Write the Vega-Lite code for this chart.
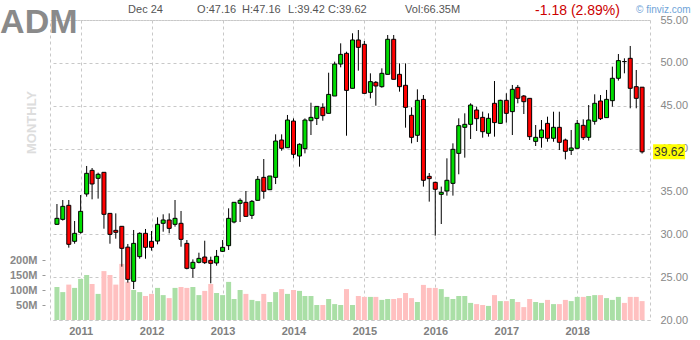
{
  "$schema": "https://vega.github.io/schema/vega-lite/v6.json",
  "width": 600,
  "height": 300,
  "autosize": {"type": "none"},
  "padding": {"left": 50, "top": 20, "right": 50, "bottom": 20},
  "background": "white",
  "config": {
    "font": "Liberation Sans",
    "view": {"stroke": "#c8c8c8", "strokeDash": [3, 3]}
  },
  "data": {"values": [
    {"d":"2010-09-01","o":31.16,"h":33.53,"l":31.1,"c":31.86,"v":110},
    {"d":"2010-10-01","o":31.74,"h":34.0,"l":31.6,"c":33.26,"v":93},
    {"d":"2010-11-01","o":33.38,"h":34.0,"l":28.44,"c":28.83,"v":118},
    {"d":"2010-12-01","o":29.18,"h":31.55,"l":28.9,"c":30.11,"v":107},
    {"d":"2011-01-01","o":30.23,"h":34.58,"l":30.07,"c":32.68,"v":137},
    {"d":"2011-02-01","o":34.7,"h":37.97,"l":34.39,"c":37.11,"v":150},
    {"d":"2011-03-01","o":37.46,"h":37.73,"l":34.08,"c":35.87,"v":120},
    {"d":"2011-04-01","o":36.53,"h":37.19,"l":34.16,"c":37.0,"v":87},
    {"d":"2011-05-01","o":37.23,"h":37.23,"l":30.65,"c":32.33,"v":163},
    {"d":"2011-06-01","o":32.44,"h":32.44,"l":28.9,"c":29.99,"v":150},
    {"d":"2011-07-01","o":30.46,"h":32.44,"l":29.49,"c":30.23,"v":118},
    {"d":"2011-08-01","o":30.93,"h":30.93,"l":26.22,"c":28.36,"v":187},
    {"d":"2011-09-01","o":28.5,"h":28.87,"l":24.36,"c":24.74,"v":127},
    {"d":"2011-10-01","o":24.51,"h":30.5,"l":23.61,"c":28.94,"v":100},
    {"d":"2011-11-01","o":27.39,"h":30.23,"l":27.15,"c":30.11,"v":93},
    {"d":"2011-12-01","o":30.11,"h":30.62,"l":27.15,"c":28.48,"v":80},
    {"d":"2012-01-01","o":29.18,"h":30.38,"l":28.09,"c":28.48,"v":87},
    {"d":"2012-02-01","o":29.21,"h":31.98,"l":28.83,"c":31.16,"v":107},
    {"d":"2012-03-01","o":31.28,"h":32.33,"l":30.3,"c":31.67,"v":83},
    {"d":"2012-04-01","o":31.67,"h":32.44,"l":30.11,"c":30.69,"v":73},
    {"d":"2012-05-01","o":31.16,"h":34.0,"l":30.89,"c":31.86,"v":107},
    {"d":"2012-06-01","o":31.28,"h":32.72,"l":28.55,"c":29.41,"v":110},
    {"d":"2012-07-01","o":28.94,"h":29.33,"l":25.91,"c":26.03,"v":107},
    {"d":"2012-08-01","o":26.03,"h":27.07,"l":24.94,"c":26.73,"v":110},
    {"d":"2012-09-01","o":26.73,"h":27.85,"l":26.61,"c":27.19,"v":83},
    {"d":"2012-10-01","o":27.35,"h":29.25,"l":26.53,"c":26.69,"v":97},
    {"d":"2012-11-01","o":26.96,"h":27.39,"l":24.28,"c":26.61,"v":120},
    {"d":"2012-12-01","o":26.65,"h":28.17,"l":26.34,"c":27.43,"v":90},
    {"d":"2013-01-01","o":28.01,"h":29.33,"l":27.93,"c":28.48,"v":83},
    {"d":"2013-02-01","o":28.67,"h":33.03,"l":28.17,"c":31.86,"v":127},
    {"d":"2013-03-01","o":31.43,"h":33.73,"l":31.28,"c":33.73,"v":70},
    {"d":"2013-04-01","o":33.61,"h":34.19,"l":31.43,"c":33.96,"v":100},
    {"d":"2013-05-01","o":33.73,"h":35.05,"l":32.09,"c":32.09,"v":87},
    {"d":"2013-06-01","o":32.21,"h":34.0,"l":31.78,"c":33.84,"v":67},
    {"d":"2013-07-01","o":33.96,"h":36.8,"l":33.96,"c":36.41,"v":63},
    {"d":"2013-08-01","o":36.64,"h":38.78,"l":34.15,"c":35.01,"v":87},
    {"d":"2013-09-01","o":35.2,"h":36.8,"l":35.2,"c":36.8,"v":60},
    {"d":"2013-10-01","o":36.64,"h":41.66,"l":35.86,"c":40.88,"v":93},
    {"d":"2013-11-01","o":41.0,"h":41.66,"l":39.75,"c":40.03,"v":103},
    {"d":"2013-12-01","o":40.1,"h":43.92,"l":40.1,"c":43.33,"v":87},
    {"d":"2014-01-01","o":43.21,"h":43.52,"l":38.86,"c":39.33,"v":100},
    {"d":"2014-02-01","o":39.13,"h":40.61,"l":37.89,"c":40.5,"v":97},
    {"d":"2014-03-01","o":39.99,"h":43.52,"l":39.44,"c":43.33,"v":80},
    {"d":"2014-04-01","o":43.25,"h":45.35,"l":41.58,"c":43.64,"v":80},
    {"d":"2014-05-01","o":43.52,"h":44.92,"l":42.75,"c":44.92,"v":50},
    {"d":"2014-06-01","o":44.81,"h":45.28,"l":43.25,"c":43.84,"v":50},
    {"d":"2014-07-01","o":44.11,"h":48.85,"l":44.11,"c":46.32,"v":70},
    {"d":"2014-08-01","o":46.13,"h":50.14,"l":46.13,"c":49.86,"v":53},
    {"d":"2014-09-01","o":49.86,"h":52.28,"l":49.48,"c":50.99,"v":50},
    {"d":"2014-10-01","o":51.11,"h":51.3,"l":41.5,"c":46.79,"v":103},
    {"d":"2014-11-01","o":47.03,"h":53.45,"l":47.03,"c":52.67,"v":50},
    {"d":"2014-12-01","o":52.67,"h":53.83,"l":49.09,"c":51.81,"v":80},
    {"d":"2015-01-01","o":52.16,"h":52.55,"l":46.44,"c":46.44,"v":77},
    {"d":"2015-02-01","o":46.56,"h":48.78,"l":45.86,"c":47.81,"v":77},
    {"d":"2015-03-01","o":47.73,"h":47.88,"l":45.0,"c":47.3,"v":77},
    {"d":"2015-04-01","o":47.22,"h":49.36,"l":47.1,"c":48.78,"v":67},
    {"d":"2015-05-01","o":48.66,"h":53.25,"l":48.66,"c":52.75,"v":70},
    {"d":"2015-06-01","o":52.75,"h":53.25,"l":48.08,"c":48.08,"v":70},
    {"d":"2015-07-01","o":48.66,"h":49.94,"l":46.64,"c":47.22,"v":73},
    {"d":"2015-08-01","o":47.38,"h":49.94,"l":42.44,"c":44.81,"v":90},
    {"d":"2015-09-01","o":43.88,"h":44.81,"l":40.61,"c":41.31,"v":73},
    {"d":"2015-10-01","o":41.55,"h":46.91,"l":40.77,"c":45.63,"v":60},
    {"d":"2015-11-01","o":45.74,"h":46.25,"l":35.56,"c":36.3,"v":117},
    {"d":"2015-12-01","o":36.76,"h":37.15,"l":33.81,"c":36.49,"v":107},
    {"d":"2016-01-01","o":36.06,"h":36.14,"l":29.84,"c":35.25,"v":107},
    {"d":"2016-02-01","o":34.66,"h":35.56,"l":31.2,"c":34.9,"v":103},
    {"d":"2016-03-01","o":35.05,"h":38.86,"l":34.51,"c":36.3,"v":77},
    {"d":"2016-04-01","o":35.94,"h":40.61,"l":34.51,"c":39.91,"v":70},
    {"d":"2016-05-01","o":39.44,"h":43.53,"l":37.0,"c":42.67,"v":80},
    {"d":"2016-06-01","o":42.48,"h":44.11,"l":38.94,"c":42.83,"v":80},
    {"d":"2016-07-01","o":42.83,"h":45.28,"l":41.12,"c":45.08,"v":57},
    {"d":"2016-08-01","o":44.5,"h":44.89,"l":42.05,"c":43.49,"v":53},
    {"d":"2016-09-01","o":43.64,"h":44.31,"l":41.27,"c":41.97,"v":50},
    {"d":"2016-10-01","o":41.78,"h":44.11,"l":41.39,"c":43.53,"v":47},
    {"d":"2016-11-01","o":45.28,"h":47.88,"l":41.39,"c":43.03,"v":83},
    {"d":"2016-12-01","o":42.94,"h":45.7,"l":42.9,"c":45.63,"v":63},
    {"d":"2017-01-01","o":45.63,"h":46.45,"l":43.03,"c":44.11,"v":63},
    {"d":"2017-02-01","o":44.31,"h":47.42,"l":41.58,"c":46.91,"v":70},
    {"d":"2017-03-01","o":47.14,"h":47.42,"l":45.28,"c":45.86,"v":60},
    {"d":"2017-04-01","o":46.13,"h":46.25,"l":44.03,"c":45.47,"v":43},
    {"d":"2017-05-01","o":45.86,"h":45.86,"l":41.0,"c":41.39,"v":70},
    {"d":"2017-06-01","o":40.84,"h":42.75,"l":40.3,"c":41.31,"v":60},
    {"d":"2017-07-01","o":41.27,"h":43.33,"l":40.1,"c":42.17,"v":57},
    {"d":"2017-08-01","o":42.94,"h":43.72,"l":40.8,"c":41.2,"v":67},
    {"d":"2017-09-01","o":41.2,"h":44.3,"l":40.8,"c":42.48,"v":53},
    {"d":"2017-10-01","o":42.48,"h":44.3,"l":39.83,"c":40.73,"v":53},
    {"d":"2017-11-01","o":41.0,"h":41.16,"l":38.74,"c":39.68,"v":67},
    {"d":"2017-12-01","o":39.79,"h":42.17,"l":39.25,"c":40.07,"v":63},
    {"d":"2018-01-01","o":40.03,"h":43.33,"l":40.03,"c":42.94,"v":77},
    {"d":"2018-02-01","o":42.71,"h":43.41,"l":41.0,"c":41.27,"v":77},
    {"d":"2018-03-01","o":41.31,"h":45.08,"l":40.92,"c":43.33,"v":80},
    {"d":"2018-04-01","o":43.18,"h":46.33,"l":42.79,"c":45.28,"v":83},
    {"d":"2018-05-01","o":45.55,"h":46.25,"l":43.33,"c":43.49,"v":83},
    {"d":"2018-06-01","o":43.61,"h":46.84,"l":43.61,"c":45.74,"v":73},
    {"d":"2018-07-01","o":45.59,"h":49.56,"l":44.89,"c":48.2,"v":67},
    {"d":"2018-08-01","o":48.2,"h":51.03,"l":47.93,"c":50.26,"v":77},
    {"d":"2018-09-01","o":50.16,"h":50.53,"l":48.78,"c":50.14,"v":57},
    {"d":"2018-10-01","o":50.53,"h":51.97,"l":44.7,"c":47.03,"v":77},
    {"d":"2018-11-01","o":47.22,"h":49.17,"l":44.7,"c":45.86,"v":77},
    {"d":"2018-12-01","o":47.16,"h":47.16,"l":39.42,"c":39.62,"v":63}
  ]},
  "encoding": {
    "x": {
      "field": "d",
      "type": "temporal",
      "title": null,
      "scale": {
        "type": "utc",
        "domain": [
          {"year": 2010, "month": 8, "date": 22, "utc": true},
          {"year": 2018, "month": 12, "date": 16, "utc": true}
        ]
      },
      "axis": {
        "values": [
          {"year": 2011, "month": 1, "date": 1, "utc": true},
          {"year": 2012, "month": 1, "date": 1, "utc": true},
          {"year": 2013, "month": 1, "date": 1, "utc": true},
          {"year": 2014, "month": 1, "date": 1, "utc": true},
          {"year": 2015, "month": 1, "date": 1, "utc": true},
          {"year": 2016, "month": 1, "date": 1, "utc": true},
          {"year": 2017, "month": 1, "date": 1, "utc": true},
          {"year": 2018, "month": 1, "date": 1, "utc": true}
        ],
        "format": "%Y",
        "grid": true,
        "gridColor": "#c8c8c8",
        "gridDash": [3, 3],
        "ticks": false,
        "tickSize": 0,
        "domain": false,
        "labelPadding": 5,
        "labelColor": "#808080",
        "labelFontSize": 11,
        "labelFontWeight": "bold",
        "labelFont": "Liberation Sans"
      }
    }
  },
  "layer": [
    {
      "mark": {"type": "bar", "size": 5},
      "encoding": {
        "y": {
          "field": "v",
          "type": "quantitative",
          "title": "MONTHLY",
          "scale": {"domain": [0, 1000], "nice": false, "zero": true},
          "axis": {
            "orient": "left",
            "values": [50, 100, 150, 200],
            "labelExpr": "datum.value + 'M'",
            "grid": false,
            "domain": false,
            "offset": 5,
            "tickSize": 3,
            "tickColor": "#999999",
            "labelPadding": 5,
            "labelColor": "#888888",
            "labelFontSize": 11,
            "labelFontWeight": "bold",
            "titleColor": "#dddddd",
            "titleFontSize": 13,
            "titleFontWeight": "bold",
            "titleAngle": -90,
            "titleAlign": "center",
            "titleBaseline": "middle",
            "titleX": -14,
            "titleY": 102
          }
        },
        "color": {
          "condition": {"test": "datum.c >= datum.o", "value": "#aadfa6"},
          "value": "#ffc0c0"
        }
      }
    },
    {
      "layer": [
        {
          "mark": {"type": "rule", "color": "#000000", "strokeWidth": 1},
          "encoding": {
            "y": {
              "field": "l",
              "type": "quantitative",
              "title": null,
              "scale": {"domain": [20, 55], "nice": false, "zero": false},
              "axis": {
                "orient": "right",
                "values": [20, 25, 30, 35, 40, 45, 50, 55],
                "format": ".2f",
                "grid": true,
                "gridColor": "#c8c8c8",
                "gridDash": [3, 3],
                "ticks": false,
                "domain": false,
                "labelPadding": 10,
                "labelColor": "#888888",
                "labelFontSize": 11
              }
            },
            "y2": {"field": "h"}
          }
        },
        {
          "mark": {"type": "bar", "size": 4, "stroke": "#000000", "strokeWidth": 1},
          "encoding": {
            "y": {"field": "o", "type": "quantitative", "title": null},
            "y2": {"field": "c"},
            "color": {
              "condition": {"test": "datum.c >= datum.o", "value": "#00dd00"},
              "value": "#ff0000"
            }
          }
        },
        {
          "transform": [{"filter": "datum.c == 39.62"}],
          "mark": {"type": "rect", "fill": "#ffff00", "xOffset": 11, "x2Offset": 43, "yOffset": -7.5, "y2Offset": 7.5},
          "encoding": {
            "y": {"field": "c", "type": "quantitative", "title": null},
            "y2": {"field": "c"},
            "x2": {"field": "d"}
          }
        },
        {
          "transform": [{"filter": "datum.c == 39.62"}],
          "mark": {"type": "text", "dx": 27, "align": "center", "baseline": "middle", "fontSize": 12, "color": "#333333"},
          "encoding": {
            "y": {"field": "c", "type": "quantitative", "title": null},
            "text": {"field": "c", "format": ".2f"}
          }
        },
        {
          "transform": [{"filter": "datum.c == 39.62"}],
          "mark": {"type": "text", "text": "ADM", "align": "left", "baseline": "alphabetic", "fontSize": 34, "fontWeight": "bold", "color": "#8a8a8a", "dx": -642},
          "encoding": {
            "y": {"datum": 53.48, "type": "quantitative", "title": null}
          }
        },
        {
          "transform": [{"filter": "datum.c == 39.62"}],
          "mark": {"type": "text", "text": "Dec 24", "align": "left", "baseline": "middle", "fontSize": 11, "color": "#555555", "dx": -514},
          "encoding": {
            "y": {"datum": 56.17, "type": "quantitative", "title": null}
          }
        },
        {
          "transform": [{"filter": "datum.c == 39.62"}],
          "mark": {"type": "text", "text": "O:47.16", "align": "left", "baseline": "middle", "fontSize": 11, "color": "#555555", "dx": -445},
          "encoding": {
            "y": {"datum": 56.17, "type": "quantitative", "title": null}
          }
        },
        {
          "transform": [{"filter": "datum.c == 39.62"}],
          "mark": {"type": "text", "text": "H:47.16", "align": "left", "baseline": "middle", "fontSize": 11, "color": "#555555", "dx": -400},
          "encoding": {
            "y": {"datum": 56.17, "type": "quantitative", "title": null}
          }
        },
        {
          "transform": [{"filter": "datum.c == 39.62"}],
          "mark": {"type": "text", "text": "L:39.42", "align": "left", "baseline": "middle", "fontSize": 11, "color": "#555555", "dx": -354},
          "encoding": {
            "y": {"datum": 56.17, "type": "quantitative", "title": null}
          }
        },
        {
          "transform": [{"filter": "datum.c == 39.62"}],
          "mark": {"type": "text", "text": "C:39.62", "align": "left", "baseline": "middle", "fontSize": 11, "color": "#555555", "dx": -314},
          "encoding": {
            "y": {"datum": 56.17, "type": "quantitative", "title": null}
          }
        },
        {
          "transform": [{"filter": "datum.c == 39.62"}],
          "mark": {"type": "text", "text": "Vol:66.35M", "align": "left", "baseline": "middle", "fontSize": 11, "color": "#555555", "dx": -237},
          "encoding": {
            "y": {"datum": 56.17, "type": "quantitative", "title": null}
          }
        },
        {
          "transform": [{"filter": "datum.c == 39.62"}],
          "mark": {"type": "text", "text": "-1.18 (2.89%)", "align": "left", "baseline": "middle", "fontSize": 14, "color": "#cc0000", "dx": -107},
          "encoding": {
            "y": {"datum": 56.05, "type": "quantitative", "title": null}
          }
        },
        {
          "transform": [{"filter": "datum.c == 39.62"}],
          "mark": {"type": "text", "text": "© finviz.com", "align": "left", "baseline": "middle", "fontSize": 10, "color": "#6fa3d8", "dx": -6},
          "encoding": {
            "y": {"datum": 56.17, "type": "quantitative", "title": null}
          }
        }
      ]
    }
  ],
  "resolve": {"scale": {"y": "independent"}}
}
